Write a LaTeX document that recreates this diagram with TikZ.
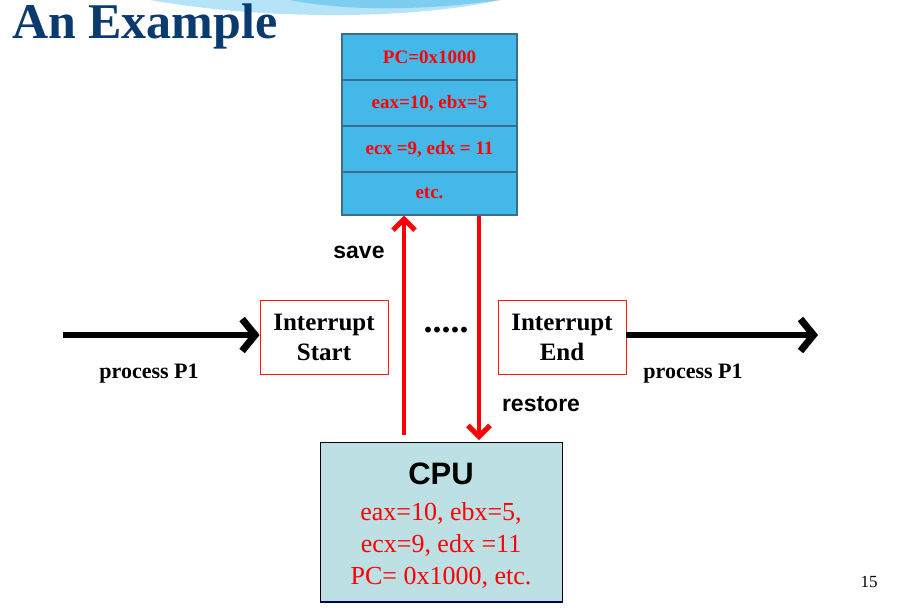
\documentclass[tikz,border=0pt]{standalone}
\usepackage{fontspec}
\setmainfont{Liberation Serif}
\newfontfamily\sansf{Liberation Sans}
\usetikzlibrary{arrows.meta}
\definecolor{stk}{HTML}{45B8EA}
\definecolor{cpuc}{HTML}{BCE0E4}
\definecolor{ttl}{HTML}{0B3B6E}
\definecolor{cellb}{HTML}{3A6E8C}
\begin{document}
\begin{tikzpicture}[x=1pt,y=-1pt,
 cell/.style={draw=cellb,line width=1.2pt,fill=stk,minimum width=175pt,minimum height=46pt,inner sep=0,text=red,font=\bfseries\fontsize{19}{21}\selectfont},
 ibox/.style={draw=red!80!orange,line width=0.8pt,minimum width=128pt,minimum height=74pt,align=center,font=\bfseries\fontsize{25}{30}\selectfont},
 red arrow/.style={red,line width=4.5pt,-{Straight Barb[length=11pt,width=22pt,line width=5pt]}},
 blk arrow/.style={black,line width=6pt,-{Straight Barb[length=13pt,width=32pt,line width=7pt]}},
 lbl/.style={font=\bfseries\fontsize{22}{24}\selectfont},
 slbl/.style={font=\sansf\bfseries\fontsize{23}{25}\selectfont}]
\useasboundingbox (0,0) rectangle (907,614);
% title decoration
\fill[stk!40] (150,0) .. controls (250,18) and (400,22) .. (500,0) -- cycle;
\fill[stk!70] (290,0) .. controls (350,12) and (430,10) .. (500,0) -- cycle;
\node[anchor=base west,text=ttl,font=\bfseries\fontsize{50}{52}\selectfont,inner sep=0] (title) at (12,38) {An Example};
% stack
\node[cell] (c1) at (429.5,57) {PC=0x1000};
\node[cell] (c2) at (429.5,103) {eax=10, ebx=5};
\node[cell] (c3) at (429.5,149) {ecx =9, edx = 11};
\node[cell,minimum height=43pt] (c4) at (429.5,193.5) {etc.};
% interrupt boxes
\node[ibox] (is) at (324,337) {Interrupt\\Start};
\node[ibox] (ie) at (562,337) {Interrupt\\End};
\node[font=\bfseries\fontsize{36}{36}\selectfont] (dots) at (446,330) {.....};
% cpu
\node[draw=black,line width=1pt,fill=cpuc,minimum width=242pt,minimum height=159pt,inner sep=0] (cpu) at (441,521.5) {};
\node[font=\sansf\bfseries\fontsize{31}{33}\selectfont] (cpul) at (441,474) {CPU};
\node[text=red,align=center,font=\fontsize{26}{32}\selectfont] (cput) at (441,545) {eax=10, ebx=5,\\ecx=9, edx =11\\PC= 0x1000, etc.};
\draw[black!70!blue,line width=2pt] (cpu.south west) -- (cpu.south east);
% red arrows
\coordinate (sv) at (404,435);
\coordinate (rs) at (479,440);
\draw[red arrow] (sv) -- (c4.south -| sv);
\draw[red arrow] (c4.south -| rs) -- (rs);
\node[slbl] (save) at (359,252) {save};
\node[slbl] (restore) at (541,404) {restore};
% black arrows
\coordinate (l0) at (63,335);
\coordinate (r1) at (818,335);
\draw[blk arrow] (l0) -- (is.west |- l0);
\draw[blk arrow] (ie.east |- r1) -- (r1);
\node[lbl] (p1) at (149,374) {process P1};
\node[lbl] (p2) at (693,374) {process P1};
\node[font=\fontsize{17}{18}\selectfont] (pg) at (869,582) {15};
\end{tikzpicture}
\end{document}
